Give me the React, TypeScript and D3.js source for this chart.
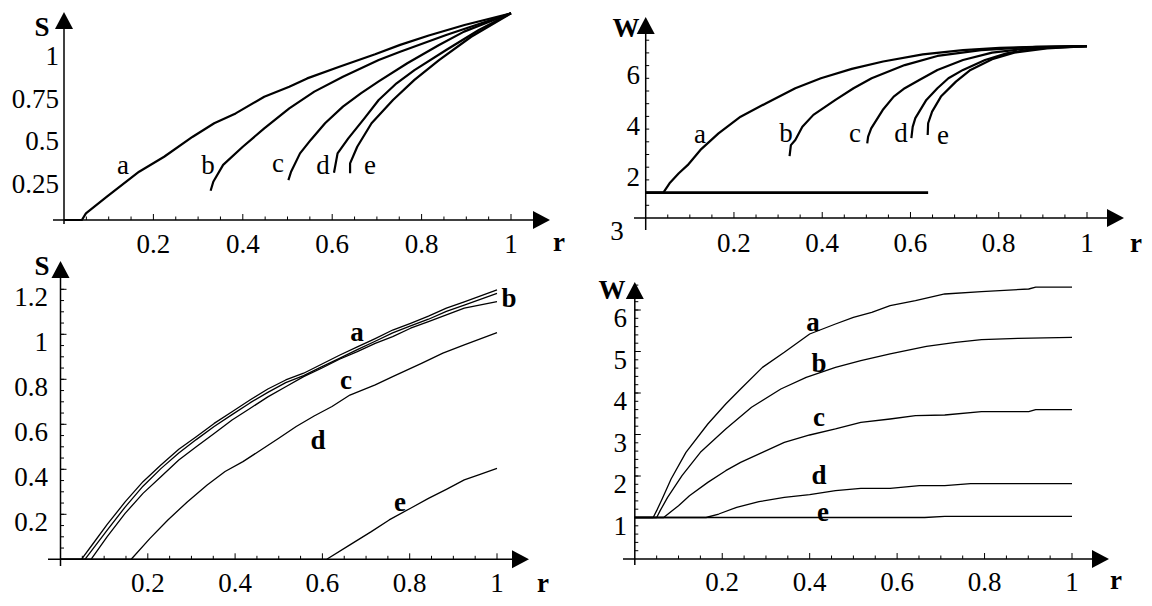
import React from "react";
import * as d3 from "d3";

type Pt = [number, number];

// ---------- DATA ----------
// r tick labels (shared by all panels)
const rTicks = [0.2, 0.4, 0.6, 0.8, 1];
const rTickText = ["0.2", "0.4", "0.6", "0.8", "1"];
const curveNames = ["a", "b", "c", "d", "e"];

// Panel 1 (top-left): S vs r
const sTopTicks = [0.25, 0.5, 0.75, 1];
const sTopTickText = ["0.25", "0.5", "0.75", "1"];
const sTopA: Pt[] = [[0, 0], [0.04, 0], [0.049, 0.039], [0.096, 0.137], [0.168, 0.284], [0.224, 0.372], [0.288, 0.49], [0.336, 0.569], [0.384, 0.627], [0.448, 0.725], [0.504, 0.784], [0.544, 0.833], [0.616, 0.902], [0.696, 0.975], [0.752, 1.03], [0.816, 1.085], [0.896, 1.147], [1, 1.216]];
const sTopB: Pt[] = [[0.328, 0.172], [0.334, 0.225], [0.356, 0.324], [0.4, 0.431], [0.448, 0.539], [0.504, 0.657], [0.56, 0.755], [0.624, 0.843], [0.704, 0.941], [0.752, 0.99], [0.855, 1.088], [1, 1.216]];
const sTopC: Pt[] = [[0.502, 0.235], [0.508, 0.284], [0.528, 0.392], [0.552, 0.471], [0.584, 0.569], [0.624, 0.667], [0.664, 0.745], [0.704, 0.815], [0.768, 0.922], [0.839, 1.029], [0.895, 1.108], [1, 1.216]];
const sTopD: Pt[] = [[0.604, 0.278], [0.612, 0.392], [0.636, 0.48], [0.672, 0.598], [0.704, 0.706], [0.744, 0.804], [0.784, 0.882], [0.855, 1.0], [0.928, 1.118], [1, 1.216]];
const sTopE: Pt[] = [[0.64, 0.275], [0.64, 0.333], [0.656, 0.431], [0.688, 0.569], [0.736, 0.706], [0.784, 0.824], [0.839, 0.941], [0.911, 1.078], [1, 1.216]];

// Panel 2 (top-right): W vs r
const wTopTicks = [2, 4, 6];
const wTopTickText = ["2", "4", "6"];
const wTopOriginText = "3";
const wTopBase: Pt[] = [[0, 1.5], [0.64, 1.5]];
const wTopA: Pt[] = [[0, 1.5], [0.04, 1.5], [0.054, 1.866], [0.075, 2.26], [0.095, 2.58], [0.124, 3.18], [0.165, 3.83], [0.215, 4.49], [0.273, 5.02], [0.339, 5.61], [0.397, 6.0], [0.467, 6.37], [0.538, 6.66], [0.628, 6.94], [0.719, 7.11], [0.802, 7.2], [0.885, 7.24], [1, 7.27]];
const wTopB: Pt[] = [[0.326, 2.94], [0.329, 3.37], [0.339, 3.57], [0.355, 4.09], [0.38, 4.56], [0.43, 5.15], [0.471, 5.61], [0.512, 6.0], [0.587, 6.52], [0.661, 6.88], [0.76, 7.11], [0.885, 7.24], [1, 7.27]];
const wTopC: Pt[] = [[0.502, 3.44], [0.504, 3.7], [0.511, 4.03], [0.537, 4.75], [0.562, 5.28], [0.587, 5.61], [0.62, 5.93], [0.661, 6.33], [0.719, 6.72], [0.785, 7.01], [0.885, 7.22], [1, 7.27]];
const wTopD: Pt[] = [[0.602, 3.64], [0.605, 4.09], [0.611, 4.43], [0.636, 5.15], [0.661, 5.61], [0.686, 6.0], [0.719, 6.33], [0.769, 6.72], [0.818, 6.98], [0.885, 7.18], [1, 7.27]];
const wTopE: Pt[] = [[0.639, 3.77], [0.64, 4.23], [0.649, 4.69], [0.669, 5.28], [0.703, 5.87], [0.736, 6.33], [0.785, 6.75], [0.835, 7.01], [0.909, 7.18], [1, 7.27]];

// Panel 3 (bottom-left): S vs r
const sBotTicks = [0.2, 0.4, 0.6, 0.8, 1, 1.2];
const sBotTickText = ["0.2", "0.4", "0.6", "0.8", "1", "1.2"];
const sBotA: Pt[] = [[0, 0], [0.048, 0], [0.074, 0.068], [0.107, 0.155], [0.148, 0.255], [0.189, 0.345], [0.23, 0.419], [0.271, 0.489], [0.311, 0.545], [0.352, 0.604], [0.393, 0.656], [0.434, 0.708], [0.475, 0.757], [0.516, 0.797], [0.557, 0.827], [0.598, 0.867], [0.639, 0.907], [0.68, 0.944], [0.721, 0.981], [0.761, 1.019], [0.802, 1.049], [0.843, 1.081], [0.884, 1.116], [0.925, 1.144], [1, 1.197]];
const sBotB: Pt[] = [[0, 0], [0.056, 0], [0.107, 0.13], [0.148, 0.232], [0.189, 0.325], [0.23, 0.403], [0.271, 0.472], [0.311, 0.532], [0.352, 0.59], [0.393, 0.643], [0.434, 0.695], [0.475, 0.742], [0.516, 0.785], [0.557, 0.816], [0.598, 0.855], [0.639, 0.893], [0.68, 0.932], [0.721, 0.969], [0.761, 1.006], [0.802, 1.037], [0.843, 1.067], [0.884, 1.102], [0.925, 1.13], [1, 1.182]];
const sBotC: Pt[] = [[0, 0], [0.07, 0], [0.107, 0.101], [0.148, 0.204], [0.189, 0.293], [0.23, 0.367], [0.271, 0.441], [0.311, 0.5], [0.352, 0.559], [0.393, 0.619], [0.434, 0.67], [0.475, 0.722], [0.516, 0.767], [0.557, 0.812], [0.598, 0.849], [0.639, 0.889], [0.68, 0.923], [0.721, 0.96], [0.761, 0.99], [0.802, 1.027], [0.843, 1.056], [0.884, 1.086], [0.925, 1.116], [1, 1.145]];
const sBotD: Pt[] = [[0, 0], [0.162, 0], [0.205, 0.093], [0.246, 0.175], [0.291, 0.256], [0.336, 0.33], [0.377, 0.39], [0.418, 0.434], [0.459, 0.486], [0.5, 0.538], [0.54, 0.59], [0.581, 0.637], [0.622, 0.679], [0.663, 0.73], [0.721, 0.775], [0.761, 0.812], [0.827, 0.871], [0.876, 0.916], [0.925, 0.953], [1, 1.007]];
const sBotE: Pt[] = [[0, 0], [0.61, 0], [0.663, 0.064], [0.712, 0.123], [0.753, 0.175], [0.802, 0.227], [0.843, 0.271], [0.884, 0.311], [0.925, 0.353], [0.958, 0.375], [1, 0.404]];

// Panel 4 (bottom-right): W vs r
const wBotTicks = [1, 2, 3, 4, 5, 6];
const wBotTickText = ["1", "2", "3", "4", "5", "6"];
const wBotA: Pt[] = [[0, 1], [0.042, 1], [0.05, 1.165], [0.0625, 1.446], [0.083, 1.928], [0.117, 2.57], [0.167, 3.253], [0.208, 3.735], [0.242, 4.096], [0.292, 4.618], [0.342, 4.98], [0.4, 5.422], [0.459, 5.663], [0.5, 5.823], [0.542, 5.944], [0.584, 6.104], [0.642, 6.225], [0.709, 6.386], [0.793, 6.442], [0.901, 6.506], [0.917, 6.55], [1, 6.55]];
const wBotB: Pt[] = [[0, 1], [0.05, 1], [0.058, 1.165], [0.075, 1.486], [0.108, 2.008], [0.15, 2.57], [0.208, 3.133], [0.267, 3.655], [0.334, 4.096], [0.392, 4.378], [0.459, 4.618], [0.517, 4.779], [0.584, 4.94], [0.667, 5.125], [0.734, 5.221], [0.793, 5.285], [0.876, 5.317], [1, 5.341]];
const wBotC: Pt[] = [[0, 1], [0.066, 1], [0.1, 1.285], [0.125, 1.526], [0.167, 1.847], [0.208, 2.128], [0.242, 2.329], [0.292, 2.57], [0.342, 2.811], [0.4, 2.988], [0.459, 3.133], [0.517, 3.293], [0.584, 3.373], [0.642, 3.454], [0.709, 3.47], [0.793, 3.55], [0.901, 3.55], [0.917, 3.598], [1, 3.598]];
const wBotD: Pt[] = [[0, 1], [0.163, 1], [0.192, 1.084], [0.233, 1.245], [0.284, 1.382], [0.342, 1.486], [0.4, 1.55], [0.459, 1.647], [0.517, 1.703], [0.584, 1.703], [0.651, 1.767], [0.709, 1.767], [0.768, 1.815], [0.876, 1.815], [1, 1.815]];
const wBotE: Pt[] = [[0, 1], [0.663, 1], [0.709, 1.028], [1, 1.028]];

// ---------- LAYOUT ----------
const FONT = "'Liberation Serif', 'Times New Roman', Times, serif";
const FS = 27;

type Cfg = {
  x0: number; x1: number;
  yDomain: [number, number]; yRange: [number, number];
  axisValue: number;
  xAxisStart: number; xArrowTip: number;
  yAxisBottom: number; yArrowTip: number;
  arrowLen: number; arrowHalf: number;
  xLabelY: number; rLabel: [number, number];
  yLabelX: number; yLabelDy: number;
  yTicks: number[]; yTickText: string[];
  yMinor: number[]; yMajor: number[];
  yName: string; yNamePos: [number, number];
  series: Pt[][]; lineWidth: number;
  curveLabelPos: [number, number][]; curveLabelBold: boolean;
  extraLines?: Pt[][]; extraWidth?: number;
};

function Panel({ c }: { c: Cfg }) {
  const x = d3.scaleLinear().domain([0, 1]).range([c.x0, c.x1]);
  const y = d3.scaleLinear().domain(c.yDomain).range(c.yRange);
  const line = d3.line<Pt>().x((d) => x(d[0])).y((d) => y(d[1]));
  const ox = x(0);
  const oy = y(c.axisValue);
  const xMinor = d3.range(1, 21).map((i) => i * 0.05);
  return (
    <g>
      {/* x axis */}
      <line x1={c.xAxisStart} x2={c.xArrowTip - c.arrowLen + 1} y1={oy} y2={oy} stroke="#000" strokeWidth={1.5} />
      <polygon points={`${c.xArrowTip},${oy} ${c.xArrowTip - c.arrowLen},${oy - c.arrowHalf} ${c.xArrowTip - c.arrowLen},${oy + c.arrowHalf}`} fill="#000" />
      {xMinor.map((v, i) => {
        const major = (i + 1) % 4 === 0;
        return <line key={"xt" + i} x1={x(v)} x2={x(v)} y1={oy} y2={oy - (major ? 6 : 3.5)} stroke="#000" strokeWidth={1} />;
      })}
      {rTicks.map((v, i) => (
        <text key={"xl" + i} x={x(v)} y={c.xLabelY} textAnchor="middle" dominantBaseline="central" fontFamily={FONT} fontSize={FS}>{rTickText[i]}</text>
      ))}
      <text x={c.rLabel[0]} y={c.rLabel[1]} textAnchor="middle" dominantBaseline="central" fontFamily={FONT} fontSize={FS} fontWeight="bold">r</text>
      {/* y axis */}
      <line x1={ox} x2={ox} y1={c.yAxisBottom} y2={c.yArrowTip + c.arrowLen - 1} stroke="#000" strokeWidth={1.5} />
      <polygon points={`${ox},${c.yArrowTip} ${ox - c.arrowHalf},${c.yArrowTip + c.arrowLen} ${ox + c.arrowHalf},${c.yArrowTip + c.arrowLen}`} fill="#000" />
      {c.yMinor.map((v, i) => (
        <line key={"ym" + i} x1={ox} x2={ox + 3.5} y1={y(v)} y2={y(v)} stroke="#000" strokeWidth={1} />
      ))}
      {c.yMajor.map((v, i) => (
        <line key={"yM" + i} x1={ox} x2={ox + 6} y1={y(v)} y2={y(v)} stroke="#000" strokeWidth={1} />
      ))}
      {c.yTicks.map((v, i) => (
        <text key={"yl" + i} x={c.yLabelX} y={y(v) + c.yLabelDy} textAnchor="end" dominantBaseline="central" fontFamily={FONT} fontSize={FS}>{c.yTickText[i]}</text>
      ))}
      <text x={c.yNamePos[0]} y={c.yNamePos[1]} textAnchor="middle" dominantBaseline="central" fontFamily={FONT} fontSize={FS} fontWeight="bold">{c.yName}</text>
      {/* curves */}
      {(c.extraLines || []).map((s, i) => (
        <path key={"ex" + i} d={line(s) || ""} fill="none" stroke="#000" strokeWidth={c.extraWidth || c.lineWidth} />
      ))}
      {c.series.map((s, i) => (
        <path key={"s" + i} d={line(s) || ""} fill="none" stroke="#000" strokeWidth={c.lineWidth} strokeLinejoin="round" />
      ))}
      {c.curveLabelPos.map((p, i) => (
        <text key={"cl" + i} x={p[0]} y={p[1]} textAnchor="middle" dominantBaseline="central" fontFamily={FONT} fontSize={FS} fontWeight={c.curveLabelBold ? "bold" : "normal"}>{curveNames[i]}</text>
      ))}
    </g>
  );
}

const panelTL: Cfg = {
  x0: 64, x1: 511, yDomain: [0, 1], yRange: [220, 50], axisValue: 0,
  xAxisStart: 53, xArrowTip: 550, yAxisBottom: 224, yArrowTip: 12, arrowLen: 17, arrowHalf: 9,
  xLabelY: 244, rLabel: [559, 242], yLabelX: 59, yLabelDy: 6,
  yTicks: sTopTicks, yTickText: sTopTickText, yMinor: [], yMajor: [],
  yName: "S", yNamePos: [42, 27], series: [sTopA, sTopB, sTopC, sTopD, sTopE], lineWidth: 2.2,
  curveLabelPos: [[123, 165], [208, 165], [278, 163], [323, 165], [370, 165]], curveLabelBold: false,
};

const panelTR: Cfg = {
  x0: 645.7, x1: 1087, yDomain: [0.5, 7.5], yRange: [218, 218 - 7 * 25.4], axisValue: 0.5,
  xAxisStart: 634, xArrowTip: 1124, yAxisBottom: 230, yArrowTip: 17, arrowLen: 17, arrowHalf: 9,
  xLabelY: 243, rLabel: [1136, 243], yLabelX: 640, yLabelDy: -3,
  yTicks: wTopTicks, yTickText: wTopTickText,
  yMinor: d3.range(2, 16).map((i) => i * 0.5), yMajor: [],
  yName: "W", yNamePos: [626, 28], series: [wTopA, wTopB, wTopC, wTopD, wTopE], lineWidth: 2.2,
  curveLabelPos: [[700, 134], [786, 133], [855, 133], [901, 133], [943, 135]], curveLabelBold: false,
  extraLines: [wTopBase], extraWidth: 2.6,
};

const panelBL: Cfg = {
  x0: 60.5, x1: 497, yDomain: [0, 1.2], yRange: [559.3, 559.3 - 270], axisValue: 0,
  xAxisStart: 48, xArrowTip: 529, yAxisBottom: 566, yArrowTip: 261, arrowLen: 17, arrowHalf: 9,
  xLabelY: 583, rLabel: [543, 583], yLabelX: 48, yLabelDy: 8,
  yTicks: sBotTicks, yTickText: sBotTickText,
  yMinor: d3.range(1, 25).map((i) => i * 0.05), yMajor: sBotTicks,
  yName: "S", yNamePos: [42, 266], series: [sBotA, sBotB, sBotC, sBotD, sBotE], lineWidth: 1.3,
  curveLabelPos: [[357, 332], [509, 298], [346, 380], [318, 440], [400, 502]], curveLabelBold: true,
};

const panelBR: Cfg = {
  x0: 634.8, x1: 1072, yDomain: [0, 6], yRange: [559, 559 - 6 * 41.5], axisValue: 0,
  xAxisStart: 623, xArrowTip: 1109, yAxisBottom: 565, yArrowTip: 282, arrowLen: 17, arrowHalf: 9,
  xLabelY: 582, rLabel: [1116, 580], yLabelX: 627, yLabelDy: 8,
  yTicks: wBotTicks, yTickText: wBotTickText,
  yMinor: d3.range(1, 34).map((i) => i * 0.2), yMajor: wBotTicks,
  yName: "W", yNamePos: [612, 290], series: [wBotA, wBotB, wBotC, wBotD, wBotE], lineWidth: 1.3,
  curveLabelPos: [[813, 322], [819, 363], [819, 417], [819, 475], [823, 512]], curveLabelBold: true,
};

export default function App() {
  return (
    <div style={{ position: "fixed", left: 0, top: 0 }}>
      <svg width={1152} height={606} viewBox="0 0 1152 606" style={{ display: "block", background: "#fff" }}>
        <rect width={1152} height={606} fill="#fff" />
        <Panel c={panelTL} />
        <Panel c={panelTR} />
        <text x={617} y={231} textAnchor="middle" dominantBaseline="central" fontFamily={FONT} fontSize={FS}>{wTopOriginText}</text>
        <Panel c={panelBL} />
        <Panel c={panelBR} />
      </svg>
    </div>
  );
}
